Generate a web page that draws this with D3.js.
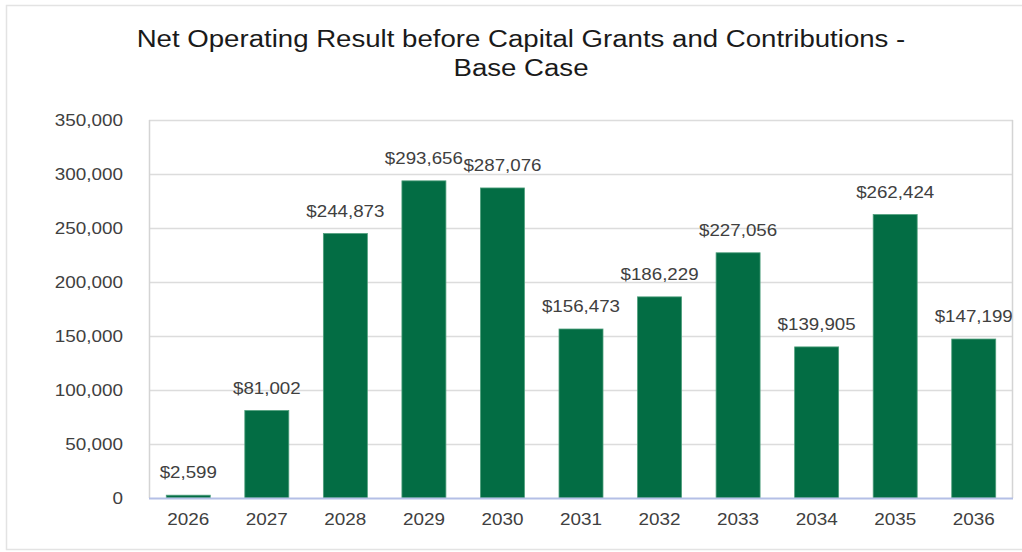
<!DOCTYPE html>
<html>
<head>
<meta charset="utf-8">
<script src="https://cdn.jsdelivr.net/npm/d3@7"></script>
<style>
  html, body { margin: 0; padding: 0; background: #ffffff; }
  svg { display: block; }
  text { font-family: "Liberation Sans", Arial, sans-serif; }
</style>
</head>
<body>
<svg id="chart" width="1022" height="552"></svg>
<script>
// Chart data
const years = ["2026", "2027", "2028", "2029", "2030", "2031", "2032", "2033", "2034", "2035", "2036"];
const netResult = [2599, 81002, 244873, 293656, 287076, 156473, 186229, 227056, 139905, 262424, 147199];
const yTicks = [0, 50000, 100000, 150000, 200000, 250000, 300000, 350000];
const titleLines = ["Net Operating Result before Capital Grants and Contributions -", "Base Case"];

const W = 1022, H = 552;
const margin = { top: 120, right: 9, bottom: 54, left: 149 };
const svg = d3.select("#chart");

// Widen a text node's glyphs horizontally by factor k (keeps its anchor)
function widen(sel, k) {
  sel.each(function () {
    const len = this.getComputedTextLength();
    d3.select(this).attr("textLength", len * k).attr("lengthAdjust", "spacingAndGlyphs");
  });
}

// Outer frame of the chart (runs off the right edge)
svg.append("rect")
  .attr("x", 6.5).attr("y", 5.5)
  .attr("width", W + 10).attr("height", H - 8)
  .attr("fill", "#ffffff").attr("stroke", "#e3e3e3").attr("stroke-width", 1.5);

const x = d3.scaleBand()
  .domain(years)
  .range([margin.left, W - margin.right])
  .paddingInner(0.44).paddingOuter(0.22);

const y = d3.scaleLinear()
  .domain([0, 350000])
  .range([H - margin.bottom, margin.top]);

// Gridlines
svg.append("g")
  .selectAll("line")
  .data(yTicks.filter(d => d > 0))
  .join("line")
  .attr("x1", margin.left).attr("x2", W - margin.right)
  .attr("y1", d => Math.round(y(d)) + 0.5).attr("y2", d => Math.round(y(d)) + 0.5)
  .attr("stroke", "#dcdcdc").attr("stroke-width", 1.5);

// Plot area border (left and right)
svg.append("line")
  .attr("x1", margin.left + 0.5).attr("x2", margin.left + 0.5)
  .attr("y1", y(350000)).attr("y2", y(0))
  .attr("stroke", "#d4d4d4").attr("stroke-width", 1.5);
svg.append("line")
  .attr("x1", W - margin.right - 0.5).attr("x2", W - margin.right - 0.5)
  .attr("y1", y(350000)).attr("y2", y(0))
  .attr("stroke", "#d4d4d4").attr("stroke-width", 1.5);

// Y axis
const yAxis = svg.append("g")
  .attr("transform", `translate(${margin.left},0)`)
  .call(d3.axisLeft(y).tickValues(yTicks).tickSize(0).tickPadding(26)
    .tickFormat(d3.format(",")));
yAxis.select(".domain").remove();
yAxis.selectAll("text")
  .attr("font-size", 16).attr("fill", "#404040")
  .attr("font-family", "'Liberation Sans', Arial, sans-serif")
  .call(widen, 1.18);

// Bars
svg.append("g")
  .selectAll("rect")
  .data(years.map((yr, i) => ({ yr, v: netResult[i] })))
  .join("rect")
  .attr("x", d => x(d.yr))
  .attr("width", x.bandwidth())
  .attr("y", d => y(d.v))
  .attr("height", d => y(0) - y(d.v))
  .attr("fill", "#036d44")
  .attr("stroke", "#4f9f7c").attr("stroke-width", 0.8);

// Baseline
svg.append("line")
  .attr("x1", margin.left).attr("x2", W - margin.right)
  .attr("y1", y(0) + 0.5).attr("y2", y(0) + 0.5)
  .attr("stroke", "#b4bfe6").attr("stroke-width", 2);

// X axis labels
const xAxis = svg.append("g")
  .attr("transform", `translate(0,${y(0)})`)
  .call(d3.axisBottom(x).tickSize(0).tickPadding(16));
xAxis.select(".domain").remove();
xAxis.selectAll("text")
  .attr("font-size", 16).attr("fill", "#404040")
  .attr("font-family", "'Liberation Sans', Arial, sans-serif")
  .call(widen, 1.18);

// Value labels
const money = v => "$" + d3.format(",")(v);
svg.append("g")
  .selectAll("text")
  .data(years.map((yr, i) => ({ yr, v: netResult[i] })))
  .join("text")
  .attr("x", d => x(d.yr) + x.bandwidth() / 2)
  .attr("y", d => y(d.v) - 17)
  .attr("text-anchor", "middle")
  .attr("font-size", 16).attr("fill", "#404040")
  .text(d => money(d.v))
  .call(widen, 1.17);

// Title, two centred lines
svg.append("g")
  .selectAll("text")
  .data(titleLines)
  .join("text")
  .attr("x", 521)
  .attr("y", (d, i) => 47 + i * 29)
  .attr("text-anchor", "middle")
  .attr("font-size", 23).attr("fill", "#1a1a1a")
  .text(d => d)
  .call(widen, 1.2);
</script>
</body>
</html>
